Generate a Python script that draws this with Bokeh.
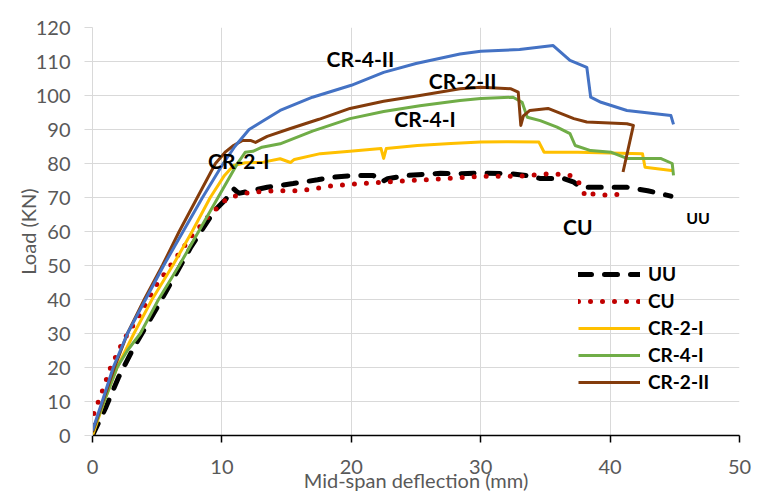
from bokeh.plotting import figure
from bokeh.models import Legend, LegendItem, Label, FixedTicker, Range1d
from bokeh.embed import file_html
from bokeh.resources import INLINE

# ---- data ----
uu_x = [0, 1, 2, 3.2, 5, 7.6, 9.4, 10.3, 10.9, 11.3, 12, 13.5, 15.5, 17.4, 18.6, 20.2, 21.7, 22.3, 22.8,
        24.3, 26.9, 28.4, 30, 32.3, 33.5, 34.6, 36.4, 37.2, 37.7, 39, 41.3, 42.9, 44.7]
uu_y = [0, 8, 17, 26, 37.7, 55.4, 66, 69.5, 72.6, 71.2, 71.8, 73, 74.1, 75.2, 76, 76.5, 76.5, 74.5, 75.5,
        76.5, 77.1, 77, 77.2, 77, 76.5, 75.6, 75.6, 74.5, 73, 73, 73, 72, 70.4]

cu_x = [0, 0.1, 0.85, 1.4, 2.4, 3.7, 5, 6.3, 7.6, 8.9, 10.4, 11, 12.2, 14.5, 16.1, 18.6, 21.2, 23.8, 27.4,
        30, 33, 35.5, 36.9, 37.4, 37.8, 38.1, 38.7, 40, 40.8, 41.4]
cu_y = [3, 6.4, 14, 20, 28, 35.8, 44.6, 51.5, 58.3, 64.2, 69.7, 70.4, 71.6, 72, 72, 73.5, 74.2, 74.8, 75.6,
        76.2, 76.3, 77, 76.5, 75.5, 73, 70.1, 71.1, 70.6, 71, 70.1]

cr2i_x = [0, 0.9, 1.9, 3.2, 4.6, 6.2, 7.7, 9.1, 10.2, 10.9, 11.8, 13.2, 14.5, 15.3, 15.6, 17.6, 19.9, 22.3, 22.5,
          22.7, 25.1, 27.7, 30, 32, 34.5, 34.9, 37.5, 40, 42.5, 42.7, 44.9]
cr2i_y = [0, 10, 20, 30, 40, 50, 60, 70, 76.5, 79.4, 80.2, 80.4, 81.4, 80.3, 81.2, 82.9, 83.6, 84.4, 81.5,
          84.4, 85.3, 85.9, 86.3, 86.4, 86.3, 83.3, 83.3, 83.1, 82.9, 78.9, 77.9]

cr4i_x = [0, 0.9, 1.9, 2.7, 3.7, 5.1, 6.7, 8.2, 9.7, 11.2, 11.8, 12.4, 13.1, 14.5, 17, 19.9, 22.5, 25.3, 28.4,
          30, 32.5, 33.2, 33.6, 34.6, 35.9, 36.9, 37.3, 38.5, 40.1, 41.3, 43.9, 44.8, 44.9]
cr4i_y = [1, 10, 20, 25, 30, 40, 50, 60, 70, 80, 83.3, 83.6, 84.8, 85.8, 89.5, 93.2, 95.3, 97, 98.5,
          99.1, 99.5, 98, 93.6, 92.6, 90.7, 88.8, 85.3, 83.8, 83.3, 81.5, 81.5, 80, 76.5]

cr2ii_x = [0, 0.8, 1.7, 2.7, 4.0, 5.4, 6.7, 8.1, 9.5, 10.3, 10.9, 11.6, 12.2, 12.6, 13.5, 15.3, 17.5, 19.9, 22.5,
           25.3, 28.4, 30, 32.3, 32.9, 33.1, 33.3, 33.8, 35.2, 37.2, 38.2, 41.3, 41.8, 41.0]
cr2ii_y = [1, 10, 20, 30, 40, 50, 60, 70, 80, 83.5, 85.3, 86.8, 86.8, 86.2, 88, 90.3, 93, 96.2, 98.3,
           100, 102, 102.4, 102, 101, 91.2, 94, 95.6, 96.2, 93.2, 92.2, 91.7, 91.2, 77.5]

cr4ii_x = [0, 0.75, 1.6, 2.7, 4.1, 5.5, 7.0, 8.5, 10.1, 11.0, 12.1, 13.2, 14.5, 17, 20, 22.5, 25, 28.4, 30,
           33, 35.6, 36.9, 38.2, 38.5, 39.3, 41.3, 44.7, 44.9]
cr4ii_y = [1.5, 10, 20, 30, 40, 50, 60, 70, 80, 85, 90, 92.6, 95.6, 99.5, 103, 106.8, 109.4, 112.2, 113,
           113.5, 114.7, 110.3, 108.3, 99.5, 98, 95.6, 94.1, 91.5]

x_ticks = [0, 10, 20, 30, 40, 50]
y_ticks = [0, 10, 20, 30, 40, 50, 60, 70, 80, 90, 100, 110, 120]

annotations = [("CR-4-II", 20.7, 110.9, "21px"), ("CR-2-II", 28.6, 104.4, "21px"),
               ("CR-4-I", 25.7, 93.2, "21px"), ("CR-2-I", 11.3, 80.9, "21px"),
               ("CU", 37.5, 61.5, "21px"), ("UU", 46.8, 64.1, "16px")]

FONT = "Lato"

p = figure(width=775, height=496, output_backend="svg", toolbar_location=None,
           x_range=Range1d(0, 50), y_range=Range1d(0, 120),
           min_border_left=92, min_border_right=36, min_border_top=27, min_border_bottom=61)
p.background_fill_color = "white"
p.border_fill_color = "white"
p.outline_line_color = None

p.xaxis.ticker = FixedTicker(ticks=x_ticks)
p.yaxis.ticker = FixedTicker(ticks=y_ticks)
p.grid.grid_line_color = "#d9d9d9"
p.grid.grid_line_width = 1

p.xaxis.axis_line_color = "black"
p.xaxis.axis_line_width = 1.5
p.xaxis.major_tick_line_color = "black"
p.xaxis.major_tick_line_width = 1.5
p.xaxis.major_tick_out = 7
p.xaxis.major_tick_in = 0
p.xaxis.minor_tick_line_color = None
p.xaxis.major_label_standoff = 17
p.xaxis.axis_label = "Mid-span deflection (mm)"
p.xaxis.axis_label_standoff = -9

p.yaxis.axis_line_color = "#d9d9d9"
p.yaxis.major_tick_line_color = "#d9d9d9"
p.yaxis.major_tick_out = 8
p.yaxis.major_tick_in = 0
p.yaxis.minor_tick_line_color = None
p.yaxis.major_label_standoff = 14
p.yaxis.axis_label = "Load (KN)"
p.yaxis.axis_label_standoff = -7

for ax in (p.xaxis, p.yaxis):
    ax.major_label_text_font = FONT
    ax.major_label_text_font_size = "20px"
    ax.major_label_text_color = "#595959"
    ax.axis_label_text_font = FONT
    ax.axis_label_text_font_size = "20px"
    ax.axis_label_text_font_style = "normal"
    ax.axis_label_text_color = "#595959"

r_uu = p.line(uu_x, uu_y, line_color="black", line_width=5, line_dash="13 13", line_cap="round")
r_cu = p.line(cu_x, cu_y, line_color="#c00000", line_width=5, line_dash="0 12", line_cap="round")
r_2i = p.line(cr2i_x, cr2i_y, line_color="#ffc000", line_width=3, line_join="round")
r_4i = p.line(cr4i_x, cr4i_y, line_color="#70ad47", line_width=3, line_join="round")
r_2ii = p.line(cr2ii_x, cr2ii_y, line_color="#843c0c", line_width=3, line_join="round")
r_4ii = p.line(cr4ii_x, cr4ii_y, line_color="#4472c4", line_width=3, line_join="round")

for txt, x, y, size in annotations:
    p.add_layout(Label(x=x, y=y, text=txt, text_font=FONT, text_font_style="bold",
                       text_font_size=size, text_color="black",
                       text_align="center", text_baseline="middle"))

legend = Legend(items=[LegendItem(label="UU", renderers=[r_uu]),
                       LegendItem(label="CU", renderers=[r_cu]),
                       LegendItem(label="CR-2-I", renderers=[r_2i]),
                       LegendItem(label="CR-4-I", renderers=[r_4i]),
                       LegendItem(label="CR-2-II", renderers=[r_2ii])],
                location=(486, 42))
legend.label_text_font = FONT
legend.label_text_font_style = "bold"
legend.label_text_font_size = "19px"
legend.label_text_color = "black"
legend.glyph_width = 62
legend.glyph_height = 20
legend.label_height = 20
legend.label_standoff = 8
legend.spacing = 4
legend.padding = 0
legend.margin = 0
legend.border_line_color = None
legend.background_fill_alpha = 0
p.add_layout(legend)

open("out.html", "w").write(file_html(p, INLINE))
